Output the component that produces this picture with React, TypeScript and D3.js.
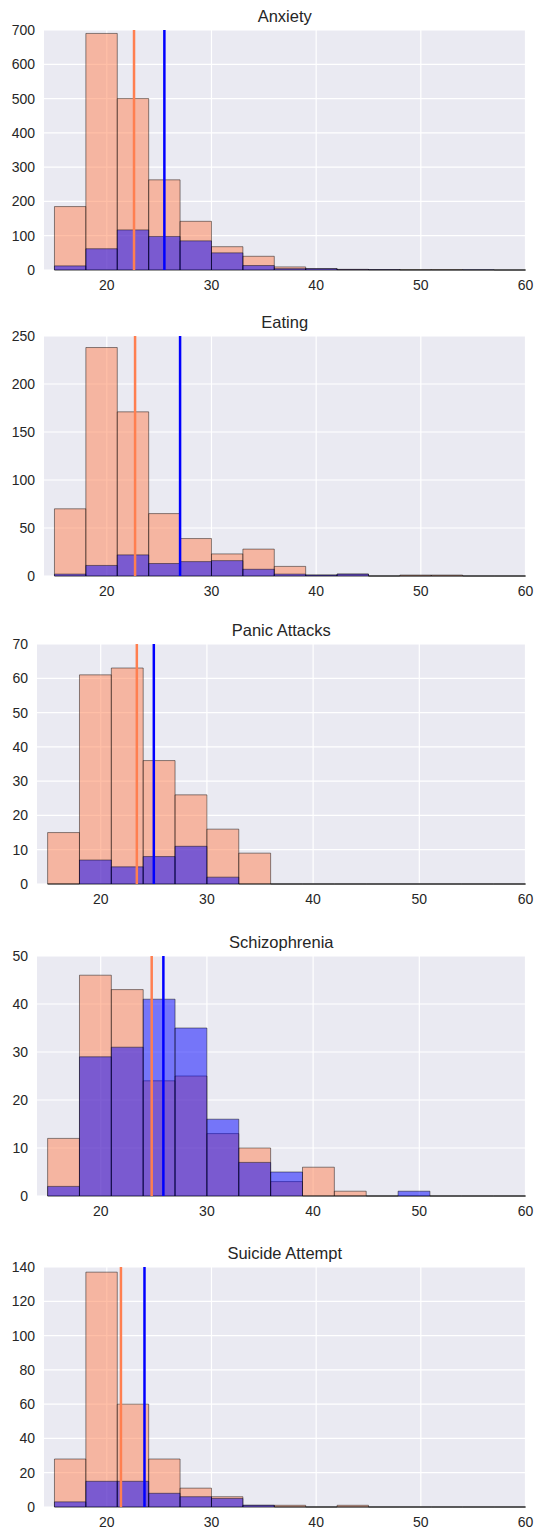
import React, { useEffect, useRef } from 'react'
import * as d3 from 'd3'

// bins of width 3 from 15 to 60
const binEdges = [15, 18, 21, 24, 27, 30, 33, 36, 39, 42, 45, 48, 51, 54, 57, 60]

const titles = ['Anxiety', 'Eating', 'Panic Attacks', 'Schizophrenia', 'Suicide Attempt']

const anxietyCoral = [185, 690, 500, 263, 142, 68, 40, 9, 4, 2, 1, 1, 1, 0, 0]
const anxietyBlue = [12, 62, 117, 98, 85, 50, 13, 4, 4, 1, 1, 0, 0, 1, 0]
const eatingCoral = [70, 238, 171, 65, 39, 23, 28, 10, 1, 2, 0, 1, 1, 0, 0]
const eatingBlue = [2, 11, 22, 13, 15, 16, 7, 2, 1, 2, 0, 0, 0, 0, 0]
const panicCoral = [15, 61, 63, 36, 26, 16, 9, 0, 0, 0, 0, 0, 0, 0, 0]
const panicBlue = [0, 7, 5, 8, 11, 2, 0, 0, 0, 0, 0, 0, 0, 0, 0]
const schizoCoral = [12, 46, 43, 24, 25, 13, 10, 3, 6, 1, 0, 0, 0, 0, 0]
const schizoBlue = [2, 29, 31, 41, 35, 16, 7, 5, 0, 0, 0, 1, 0, 0, 0]
const suicideCoral = [28, 137, 60, 28, 11, 6, 1, 1, 0, 1, 0, 0, 0, 0, 0]
const suicideBlue = [3, 15, 15, 8, 6, 5, 1, 0, 0, 0, 0, 0, 0, 0, 0]

const coralCounts = [anxietyCoral, eatingCoral, panicCoral, schizoCoral, suicideCoral]
const blueCounts = [anxietyBlue, eatingBlue, panicBlue, schizoBlue, suicideBlue]

// mean lines
const coralMeans = [22.6, 22.7, 23.4, 24.8, 21.35]
const blueMeans = [25.5, 27.0, 25.0, 25.9, 23.6]

const yMaxes = [700, 250, 70, 50, 140]
const yTickSteps = [100, 50, 10, 10, 20]
const xTicks = [20, 30, 40, 50, 60]

const W = 535
const H = 1530

const App = () => {
  const svgRef = useRef(null)

  useEffect(() => {
    document.body.style.margin = '0'
    const svg = d3.select(svgRef.current)
    svg.selectAll('*').remove()

    const tops = [30, 336, 644, 956, 1267]
    const panelH = 240
    const right = 525.5

    titles.forEach((title, i) => {
      const top = tops[i]
      const bottom = top + panelH
      const left = yMaxes[i] >= 100 ? 44 : 37

      const x = d3.scaleLinear().domain([14, 60]).range([left, right])
      const y = d3.scaleLinear().domain([0, yMaxes[i]]).range([bottom, top])
      const yTicks = d3.range(0, yMaxes[i] + 0.001, yTickSteps[i])

      const g = svg.append('g')

      g.append('rect')
        .attr('x', left)
        .attr('y', top)
        .attr('width', right - left)
        .attr('height', panelH)
        .attr('fill', '#EAEAF2')

      // grid
      g.selectAll('.gx')
        .data(xTicks)
        .join('line')
        .attr('x1', (d) => x(d))
        .attr('x2', (d) => x(d))
        .attr('y1', top)
        .attr('y2', bottom)
        .attr('stroke', '#fff')
        .attr('stroke-width', 1.2)
      g.selectAll('.gy')
        .data(yTicks)
        .join('line')
        .attr('x1', left)
        .attr('x2', right)
        .attr('y1', (d) => y(d))
        .attr('y2', (d) => y(d))
        .attr('stroke', '#fff')
        .attr('stroke-width', 1.2)

      const bins = binEdges.slice(0, -1).map((e, j) => ({ x0: e, x1: binEdges[j + 1], j }))

      // paths so that empty bins still show their edge along the baseline
      const drawBars = (counts, color) => {
        g.append('g')
          .selectAll('path')
          .data(bins)
          .join('path')
          .attr('d', (d) => {
            const x0 = x(d.x0)
            const x1 = x(d.x1)
            const yt = y(counts[d.j])
            return `M${x0},${bottom}V${yt}H${x1}V${bottom}Z`
          })
          .attr('fill', color)
          .attr('fill-opacity', 0.5)
          .attr('stroke', '#000')
          .attr('stroke-opacity', 0.45)
          .attr('stroke-width', 1)
      }
      drawBars(coralCounts[i], '#FF7F50')
      drawBars(blueCounts[i], '#0000FF')

      g.append('line')
        .attr('x1', x(coralMeans[i]))
        .attr('x2', x(coralMeans[i]))
        .attr('y1', top)
        .attr('y2', bottom)
        .attr('stroke', '#FF7F50')
        .attr('stroke-width', 2.5)
      g.append('line')
        .attr('x1', x(blueMeans[i]))
        .attr('x2', x(blueMeans[i]))
        .attr('y1', top)
        .attr('y2', bottom)
        .attr('stroke', '#0000FF')
        .attr('stroke-width', 2.5)

      // tick labels
      g.selectAll('.yl')
        .data(yTicks)
        .join('text')
        .attr('x', left - 9)
        .attr('y', (d) => y(d) + 5)
        .attr('text-anchor', 'end')
        .attr('fill', '#262626')
        .style('font-size', '14px')
        .text((d) => d)
      g.selectAll('.xl')
        .data(xTicks)
        .join('text')
        .attr('x', (d) => x(d))
        .attr('y', bottom + 20)
        .attr('text-anchor', 'middle')
        .attr('fill', '#262626')
        .style('font-size', '14px')
        .text((d) => d)

      g.append('text')
        .attr('x', (left + right) / 2)
        .attr('y', top - 8)
        .attr('text-anchor', 'middle')
        .attr('fill', '#262626')
        .style('font-size', '16.5px')
        .text(title)
    })
  }, [])

  return (
    <svg
      ref={svgRef}
      width={W}
      height={H}
      style={{ display: 'block', background: '#fff', fontFamily: 'Liberation Sans, Arial, sans-serif' }}
    />
  )
}

export default App
